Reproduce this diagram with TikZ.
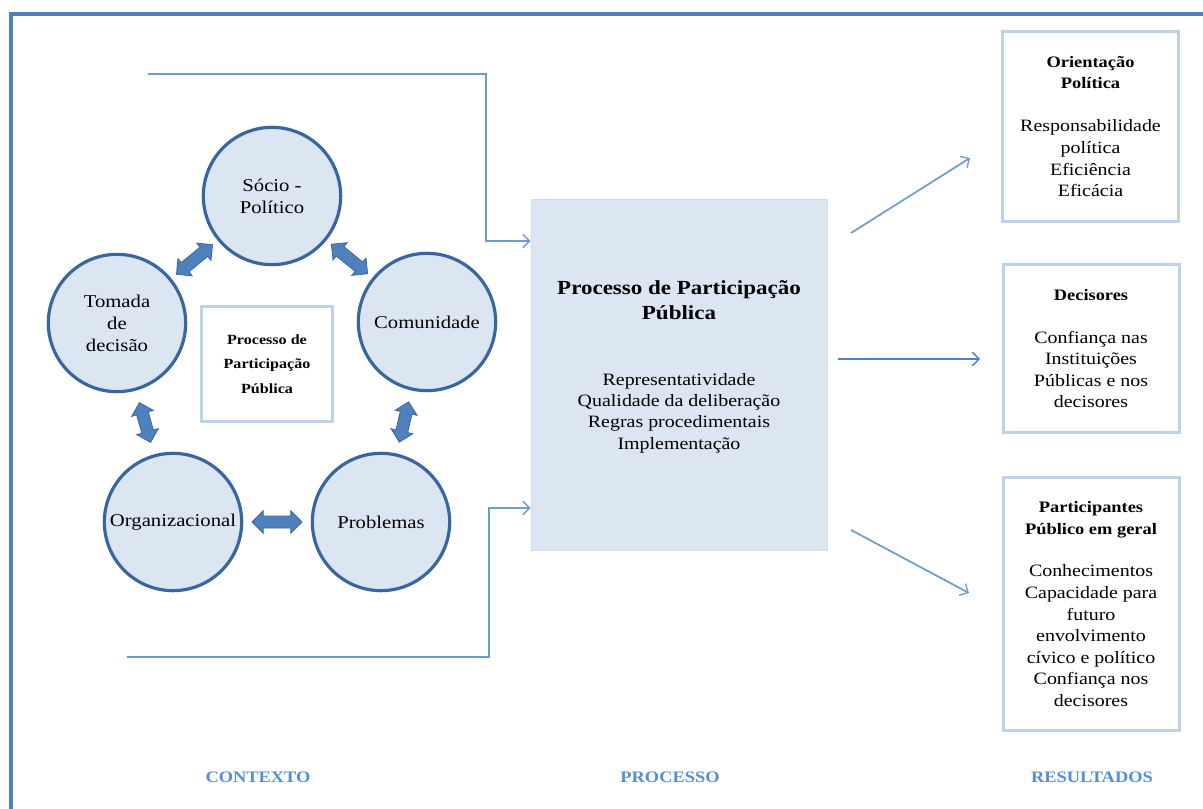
\documentclass[tikz,border=0pt]{standalone}
\usepackage{fontspec}
\setmainfont{Liberation Serif}[FakeStretch=1.15]
\usetikzlibrary{shapes.arrows,arrows.meta,calc}
\definecolor{framecol}{HTML}{4F81BD}
\definecolor{circfill}{HTML}{DCE6F2}
\definecolor{circline}{HTML}{3A66A0}
\definecolor{arrfill}{HTML}{4F81BD}
\definecolor{arrline}{HTML}{3A66A0}
\definecolor{boxline}{HTML}{BDD1EA}
\definecolor{pboxline}{HTML}{D0DDEE}
\definecolor{conncol}{HTML}{6F9BD3}
\definecolor{labcol}{HTML}{558ED5}
\begin{document}
\begin{tikzpicture}[x=0.75pt,y=-0.75pt,
  frame/.style={draw=framecol,line width=3pt},
  circ/.style={circle,draw=circline,fill=circfill,line width=2.4pt,minimum size=103pt,inner sep=0pt,align=center,font=\fontsize{13.5}{16.5}\selectfont},
  ibox/.style={rectangle,draw=boxline,fill=white,line width=2.25pt,minimum width=98pt,minimum height=86pt,align=center,font=\bfseries\fontsize{10.5}{18.5}\selectfont},
  pboxst/.style={rectangle,draw=pboxline,fill=circfill,line width=0.75pt,minimum width=222pt,minimum height=262.5pt},
  rbox/.style={rectangle,draw=boxline,fill=white,line width=2.25pt,minimum width=132pt,align=center,font=\fontsize{13}{16.2}\selectfont},
  txt/.style={align=center,inner sep=0pt},
  dblarr/.style={double arrow,draw=arrline,fill=arrfill,line width=0.6pt,inner xsep=0pt,inner ysep=4.2pt,double arrow head extend=3.9pt,minimum height=#1},
  conn/.style={draw=conncol,line width=1.3pt,-{Straight Barb[length=5pt,width=10pt,line width=1pt]}},
  lab/.style={text=labcol,font=\bfseries\fontsize{12}{14}\selectfont}
]
\useasboundingbox (0,0) rectangle (1203,809);
\fill[white] (0,0) rectangle (1203,809);
\draw[frame] (10.5,809) -- (10.5,14.5) -- (1203,14.5);

% context circles
\node[circ] (soc) at (272,196) {Sócio -\\Político};
\node[circ] (tom) at (117,323) {Tomada\\de\\decisão};
\node[circ] (com) at (427,322) {Comunidade};
\node[circ] (org) at (173,522) {Organizacional};
\node[circ] (pro) at (381,522) {Problemas};
\node[ibox] (ipp) at (267,364) {Processo de\\Participação\\Pública};

% double arrows
\path let \p1=($(tom)-(soc)$), \n1={atan2(\y1,\x1)} in
  node[dblarr=35pt,rotate=\n1] (a1) at ($(soc)!0.5!(tom)$) {};
\path let \p1=($(com)-(soc)$), \n1={atan2(\y1,\x1)} in
  node[dblarr=35pt,rotate=\n1] (a2) at ($(soc)!0.5!(com)$) {};
\path let \p1=($(org)-(tom)$), \n1={atan2(\y1,\x1)} in
  node[dblarr=31pt,rotate=\n1] (a3) at ($(tom)!0.5!(org)$) {};
\path let \p1=($(pro)-(com)$), \n1={atan2(\y1,\x1)} in
  node[dblarr=31pt,rotate=\n1] (a4) at ($(com)!0.5!(pro)$) {};
\path let \p1=($(pro)-(org)$), \n1={atan2(\y1,\x1)} in
  node[dblarr=37.5pt,rotate=\n1] (a5) at ($(org)!0.5!(pro)$) {};

% process box
\node[pboxst] (pbox) at (679,375) {};
\node[txt,font=\bfseries\fontsize{15}{18.75}\selectfont] (ptitle) at (679,300.5) {Processo de Participação\\Pública};
\node[txt,font=\fontsize{13}{16}\selectfont] (plist) at (679,413) {Representatividade\\Qualidade da deliberação\\Regras procedimentais\\Implementação};

% connectors into process box
\coordinate (tstart) at (148,74);
\coordinate (bstart) at (127,657);
\draw[conn] (tstart) -| (486,241) -- (pbox.west |- 486,241);
\draw[conn] (bstart) -| (489,508) -- (pbox.west |- 489,508);

% result boxes
\node[rbox,minimum height=142.5pt] (r1) at (1090.5,126.5) {{\bfseries\fontsize{12}{16.2}\selectfont Orientação}\\{\bfseries\fontsize{12}{16.2}\selectfont Política}\\[16pt]Responsabilidade\\política\\Eficiência\\Eficácia};
\node[rbox,minimum height=126pt] (r2) at (1091,348.5) {{\bfseries\fontsize{12}{16.2}\selectfont Decisores}\\[16pt]Confiança nas\\Instituições\\Públicas e nos\\decisores};
\node[rbox,minimum height=190pt] (r3) at (1091,604) {{\bfseries\fontsize{12}{16.2}\selectfont Participantes}\\{\bfseries\fontsize{12}{16.2}\selectfont Público em geral}\\[16pt]Conhecimentos\\Capacidade para\\futuro\\envolvimento\\cívico e político\\Confiança nos\\decisores};

% output arrows
\coordinate (o1s) at (851,233);
\coordinate (o1e) at (970,158);
\coordinate (o2s) at (838,359);
\coordinate (o2e) at (980,359);
\coordinate (o3s) at (851,530);
\coordinate (o3e) at (969,593);
\draw[conn] (o1s) -- (o1e);
\draw[conn,draw=framecol,line width=2pt] (o2s) -- (o2e);
\draw[conn] (o3s) -- (o3e);

% bottom labels
\node[lab] (lctx) at (258,777) {CONTEXTO};
\node[lab] (lproc) at (670,777) {PROCESSO};
\node[lab] (lres) at (1092,777) {RESULTADOS};
\end{tikzpicture}
\end{document}
